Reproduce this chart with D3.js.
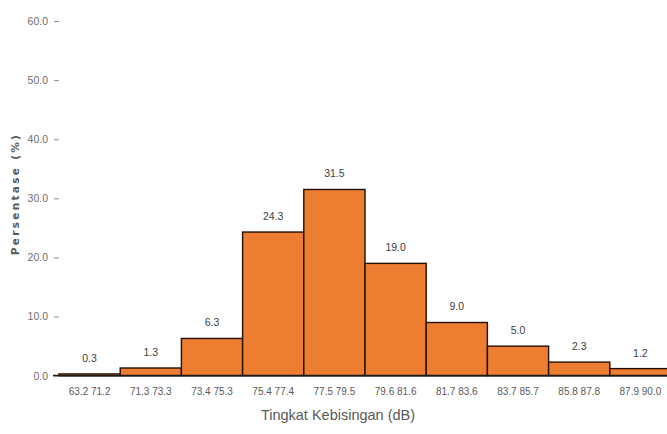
<!DOCTYPE html>
<html>
<head>
<meta charset="utf-8">
<script src="https://cdn.jsdelivr.net/npm/d3@7"></script>
<style>
  html, body { margin: 0; padding: 0; background: #fff; }
  svg { display: block; }
</style>
</head>
<body>
<svg id="chart" width="667" height="434"></svg>
<script>
const categories = ["63.2 71.2", "71.3 73.3", "73.4 75.3", "75.4 77.4", "77.5 79.5",
                    "79.6 81.6", "81.7 83.6", "83.7 85.7", "85.8 87.8", "87.9 90.0"];
const values = [0.3, 1.3, 6.3, 24.3, 31.5, 19.0, 9.0, 5.0, 2.3, 1.2];
const valueLabels = ["0.3", "1.3", "6.3", "24.3", "31.5", "19.0", "9.0", "5.0", "2.3", "1.2"];
const yTicks = [0, 10, 20, 30, 40, 50, 60];
const xTitle = "Tingkat Kebisingan (dB)";
const yTitle = "Persentase (%)";

const svg = d3.select("#chart");
const baseY = 375.7, topY = 21;

const x = d3.scaleBand().domain(categories).range([59, 671]).padding(0);
const y = d3.scaleLinear().domain([0, 60]).range([baseY, topY]);

// y axis (labels and small tick marks, no domain line)
const yAxis = d3.axisLeft(y).tickValues(yTicks).tickFormat(d3.format(".1f")).tickSize(5).tickPadding(6);
const gy = svg.append("g").attr("transform", "translate(59,0)").call(yAxis);
gy.select(".domain").remove();
gy.selectAll(".tick line").attr("stroke", "#8c8c8c").attr("stroke-width", 1);
gy.selectAll(".tick").filter(d => d === 0).select("line").remove();
gy.selectAll(".tick text").attr("fill", "#6e6e6e")
  .style("font-family", "Liberation Sans, Arial, sans-serif").style("font-size", "10.5px");

// bars
svg.append("g").selectAll("rect").data(values).join("rect")
  .attr("x", (d, i) => x(categories[i]))
  .attr("y", d => y(d))
  .attr("width", x.bandwidth())
  .attr("height", d => baseY - y(d))
  .attr("fill", "#ED7D31")
  .attr("stroke", "#231000")
  .attr("stroke-width", 1.4);

// baseline axis
const xAxis = d3.axisBottom(x).tickSize(0).tickPadding(12);
const gx = svg.append("g").attr("transform", `translate(0,${baseY})`).call(xAxis);
gx.select(".domain").attr("d", `M53,0H667`).attr("stroke", "#1a1a1a").attr("stroke-width", 1.8);
gx.selectAll(".tick text").attr("fill", "#595959")
  .style("font-family", "Liberation Sans, Arial, sans-serif").style("font-size", "10px");

// value labels
svg.append("g").selectAll("text").data(values).join("text")
  .attr("x", (d, i) => x(categories[i]) + x.bandwidth() / 2)
  .attr("y", d => y(d) - 12)
  .attr("text-anchor", "middle")
  .attr("fill", "#404040")
  .style("font-family", "Liberation Sans, Arial, sans-serif")
  .style("font-size", "10.5px")
  .text((d, i) => valueLabels[i]);

// axis titles
svg.append("text")
  .attr("x", 338).attr("y", 420)
  .attr("text-anchor", "middle")
  .attr("fill", "#595959")
  .style("font-family", "Liberation Sans, Arial, sans-serif")
  .style("font-size", "14.5px")
  .text(xTitle);

svg.append("text")
  .attr("transform", "translate(19,194) rotate(-90)")
  .attr("text-anchor", "middle")
  .attr("fill", "#595959")
  .style("font-family", "DejaVu Sans, sans-serif")
  .style("font-size", "10.5px")
  .style("font-weight", "bold")
  .style("letter-spacing", "2.3px")
  .text(yTitle);
</script>
</body>
</html>
